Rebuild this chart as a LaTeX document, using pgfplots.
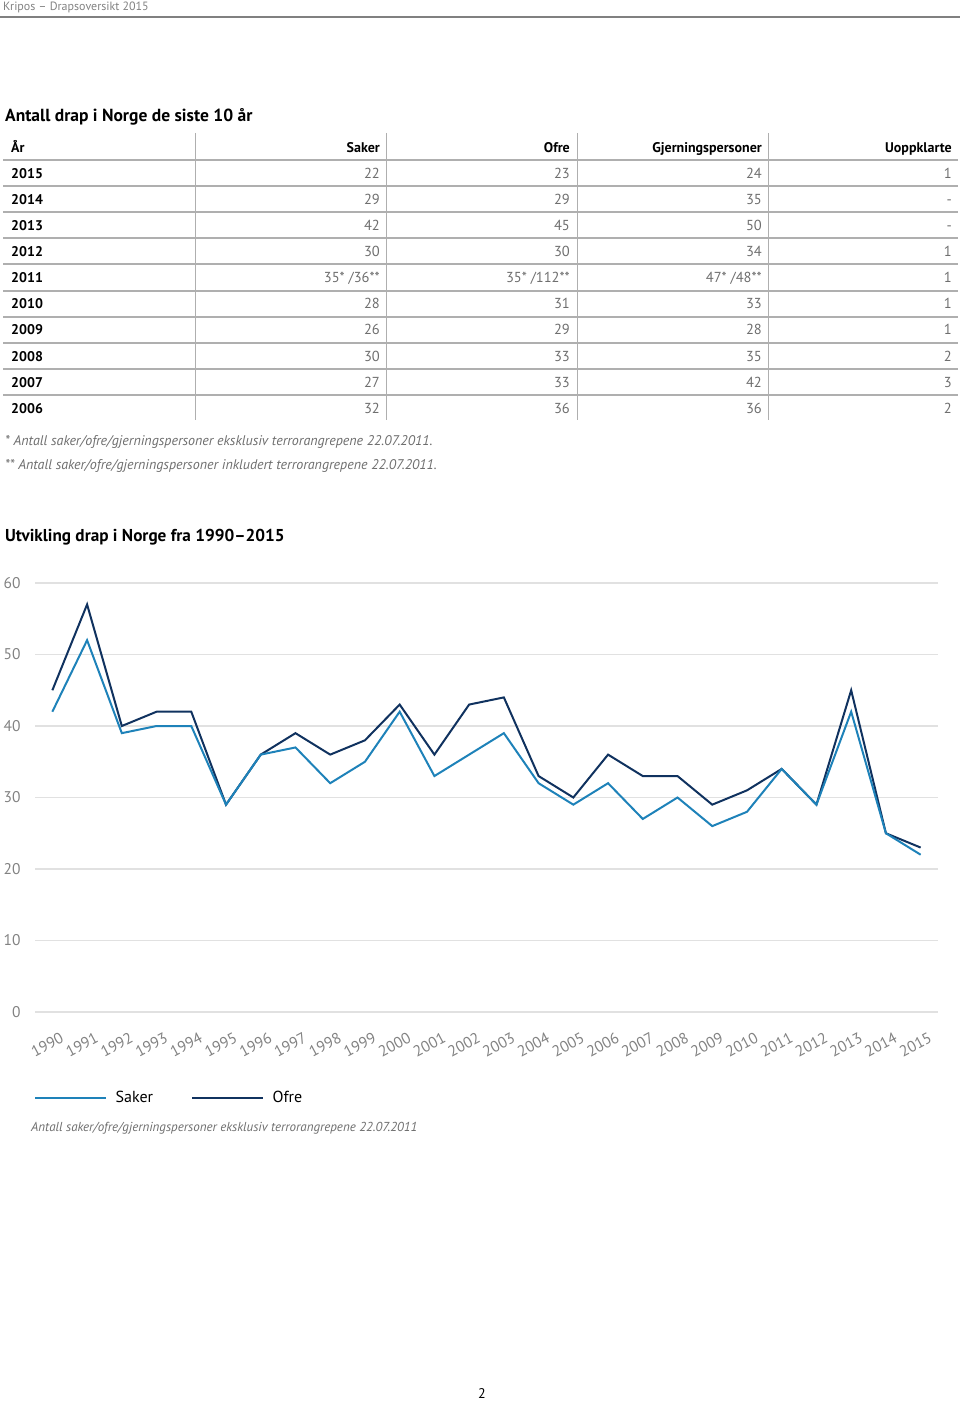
\documentclass[border=0pt]{standalone}
\usepackage{fontspec}
\setmainfont{PT Sans}
\usepackage{pgfplots}
\pgfplotsset{compat=1.18}
\definecolor{saker}{RGB}{30,130,185}
\definecolor{ofre}{RGB}{16,50,95}
\definecolor{gridgray}{RGB}{225,225,225}
\definecolor{labgray}{RGB}{130,130,130}
\definecolor{numgray}{RGB}{110,110,110}
\definecolor{rulegray}{RGB}{175,175,175}
\newcommand\fs[1]{\fontsize{#1}{#1}\selectfont}
\begin{document}
\begin{tikzpicture}
\useasboundingbox (0pt,0pt) rectangle (960pt,-1402pt);
% page header
\node[anchor=base west, inner sep=0, text=labgray] at (3pt,-11pt) {\fs{12}Kripos – Drapsoversikt 2015};
\draw[draw=gray, line width=1.5pt] (0pt,-17pt) -- (960pt,-17pt);
% table title
\node[anchor=base west, inner sep=0] at (5pt,-122pt) {\fs{17.5}\bfseries Antall drap i Norge de siste 10 år};
% table rules
\foreach \y in {160,186,212,238,264,291,317,343,369,395}
  \draw[rulegray, line width=1.6pt] (3pt,-\y pt) -- (958pt,-\y pt);
\foreach \x in {195,386,577,768}
  \draw[rulegray, line width=0.8pt] (\x pt,-133pt) -- (\x pt,-420pt);
% header row
\node[anchor=base west, inner sep=0] at (11pt,-152pt) {\fs{14}\bfseries År};
\node[anchor=base east, inner sep=0] at (380pt,-152pt) {\fs{14}\bfseries Saker};
\node[anchor=base east, inner sep=0] at (570pt,-152pt) {\fs{14}\bfseries Ofre};
\node[anchor=base east, inner sep=0] at (762pt,-152pt) {\fs{14}\bfseries Gjerningspersoner};
\node[anchor=base east, inner sep=0] at (952pt,-152pt) {\fs{14}\bfseries Uoppklarte};
% rows
\foreach \yr/\a/\b/\c/\d [count=\i from 0] in {2015/22/23/24/1, 2014/29/29/35/-, 2013/42/45/50/-, 2012/30/30/34/1, 2011/{35* /36**}/{35* /112**}/{47* /48**}/1, 2010/28/31/33/1, 2009/26/29/28/1, 2008/30/33/35/2, 2007/27/33/42/3, 2006/32/36/36/2}{
  \pgfmathsetmacro\yy{178+26.15*\i}
  \node[anchor=base west, inner sep=0] at (11pt,-\yy pt) {\fs{14}\bfseries \yr};
  \node[anchor=base east, inner sep=0, text=numgray] at (380pt,-\yy pt) {\fs{14.5}\a};
  \node[anchor=base east, inner sep=0, text=numgray] at (570pt,-\yy pt) {\fs{14.5}\b};
  \node[anchor=base east, inner sep=0, text=numgray] at (762pt,-\yy pt) {\fs{14.5}\c};
  \node[anchor=base east, inner sep=0, text=numgray] at (952pt,-\yy pt) {\fs{14.5}\d};
}
% footnotes
\node[anchor=base west, inner sep=0, text=numgray] at (5pt,-445pt) {\fs{14}\itshape * Antall saker/ofre/gjerningspersoner eksklusiv terrorangrepene 22.07.2011.};
\node[anchor=base west, inner sep=0, text=numgray] at (5pt,-469pt) {\fs{14}\itshape ** Antall saker/ofre/gjerningspersoner inkludert terrorangrepene 22.07.2011.};
% chart title
\node[anchor=base west, inner sep=0] at (5pt,-541pt) {\fs{17.2}\bfseries Utvikling drap i Norge fra 1990–2015};
\begin{axis}[
  at={(35pt,-1012pt)}, anchor=south west,
  scale only axis, width=903pt, height=429pt,
  xmin=-0.5, xmax=25.5, ymin=0, ymax=60,
  ytick={0,10,20,30,40,50,60},
  xtick={0,...,25},
  xticklabels={1990,1991,1992,1993,1994,1995,1996,1997,1998,1999,2000,2001,2002,2003,2004,2005,2006,2007,2008,2009,2010,2011,2012,2013,2014,2015},
  ymajorgrids, grid style={draw=gridgray, line width=1.5pt},
  axis line style={draw=none}, major tick length=0pt,
  /pgf/number format/assume math mode=true,
  yticklabel style={font=\fs{15.5}, text=labgray, anchor=east, xshift=-11pt},
  xticklabel style={font=\fs{15.5}, text=labgray, rotate=28, anchor=north east, xshift=-2pt, yshift=-20pt, inner sep=1pt},
  clip=false,
  legend columns=2,
  legend style={at={(axis description cs:0,0)}, anchor=west, xshift=-4pt, yshift=-86pt, draw=none, fill=none, font=\fs{16},
    /tikz/every odd column/.append style={column sep=6pt},
    /tikz/every even column/.append style={column sep=36pt}},
  legend image code/.code={\draw[#1] (0pt,0pt) -- (71pt,0pt);},
]
\addlegendimage{saker, line width=2.5pt}
\addlegendentry{Saker}
\addlegendimage{ofre, line width=2.5pt}
\addlegendentry{Ofre}
\addplot[ofre, line width=2pt, forget plot] coordinates {
(0,45)(1,57)(2,40)(3,42)(4,42)(5,29)(6,36)(7,39)(8,36)(9,38)(10,43)(11,36)(12,43)(13,44)(14,33)(15,30)(16,36)(17,33)(18,33)(19,29)(20,31)(21,34)(22,29)(23,45)(24,25)(25,23)};
\addplot[saker, line width=2pt, forget plot] coordinates {
(0,42)(1,52)(2,39)(3,40)(4,40)(5,29)(6,36)(7,37)(8,32)(9,35)(10,42)(11,33)(12,36)(13,39)(14,32)(15,29)(16,32)(17,27)(18,30)(19,26)(20,28)(21,34)(22,29)(23,42)(24,25)(25,22)};
\end{axis}
% note under chart
\node[anchor=base west, inner sep=0, text=numgray] at (31pt,-1131pt) {\fs{13}\itshape Antall saker/ofre/gjerningspersoner eksklusiv terrorangrepene 22.07.2011};
% page number
\node[anchor=base, inner sep=0] at (482pt,-1398pt) {\fs{14}2};
\end{tikzpicture}
\end{document}
